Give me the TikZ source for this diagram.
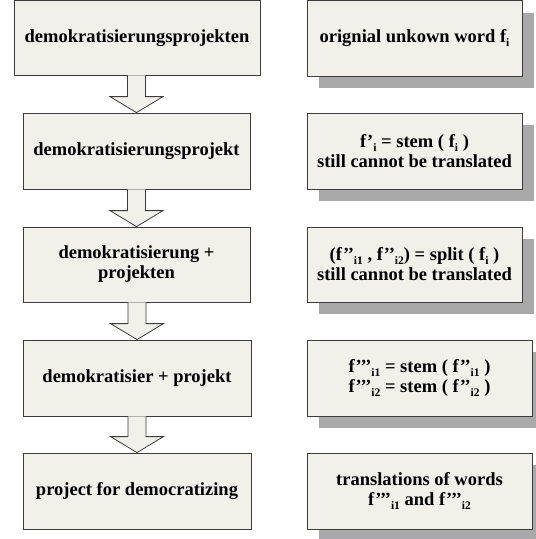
\documentclass[tikz,border=0pt]{standalone}
\usepackage{fontspec}
\setmainfont{Liberation Serif}
\usetikzlibrary{calc,shadows}
\definecolor{boxfill}{RGB}{241,241,234}
\definecolor{boxline}{RGB}{60,60,60}
\definecolor{shadowgray}{RGB}{169,169,169}
\newcommand\sbx[1]{\raisebox{-0.22em}{\fontsize{11.5}{11.5}\selectfont #1}}
\begin{document}
\begin{tikzpicture}[x=1pt,y=1pt,
  every node/.style={font=\fontsize{18.5}{20}\selectfont\bfseries, align=center, inner sep=0pt},
  lbox/.style={draw=boxline, fill=boxfill, line width=0.8pt},
  rbox/.style={lbox, drop shadow={shadow xshift=12pt, shadow yshift=-12pt, fill=shadowgray, opacity=1}},
  barrow/.style={draw=boxline, fill=boxfill, line width=0.8pt, line join=miter}]
\useasboundingbox (0,0) rectangle (536,-539);
\clip (0,0) rectangle (536,-539);
% left column
\node[lbox, minimum width=246pt, minimum height=74.5pt] (b1) at (137,-37.75) {demokratisierungsprojekten};
\node[lbox, minimum width=227pt, minimum height=76pt] (b2) at (136.5,-151) {demokratisierungsprojekt};
\node[lbox, minimum width=227pt, minimum height=75pt] (b3) at (136.5,-264.5) {demokratisierung +\\projekten};
\node[lbox, minimum width=228pt, minimum height=76pt] (b4) at (137,-378) {demokratisier + projekt};
\node[lbox, minimum width=228pt, minimum height=76pt] (b5) at (137,-491) {project for democratizing};
% arrows
\foreach \a/\b in {b1/b2,b2/b3,b3/b4,b4/b5}{
  \filldraw[barrow] let \p1=(\a.south), \p2=(\b.north) in
    (\x2-9,\y1) -- (\x2-9,\y2+16) -- (\x2-26.5,\y2+16) -- (\p2) -- (\x2+26.5,\y2+16) -- (\x2+9,\y2+16) -- (\x2+9,\y1);
}
% right column
\node[rbox, minimum width=215pt, minimum height=75.5pt] (r1) at (414.5,-38.25) {orignial unkown word f\sbx{i}};
\node[rbox, minimum width=215pt, minimum height=76pt] (r2) at (414.5,-151) {f’\sbx{i} = stem ( f\sbx{i} )\\still cannot be translated};
\node[rbox, minimum width=215pt, minimum height=75pt] (r3) at (414.5,-264.5) {(f’’\sbx{i1} , f’’\sbx{i2}) = split ( f\sbx{i} )\\still cannot be translated};
\node[rbox, minimum width=225pt, minimum height=76pt] (r4) at (419.5,-378) {f’’’\sbx{i1} = stem ( f’’\sbx{i1} )\\f’’’\sbx{i2} = stem ( f’’\sbx{i2} )};
\node[rbox, minimum width=225pt, minimum height=76pt] (r5) at (419.5,-491) {translations of words\\f’’’\sbx{i1} and f’’’\sbx{i2}};
\end{tikzpicture}
\end{document}
